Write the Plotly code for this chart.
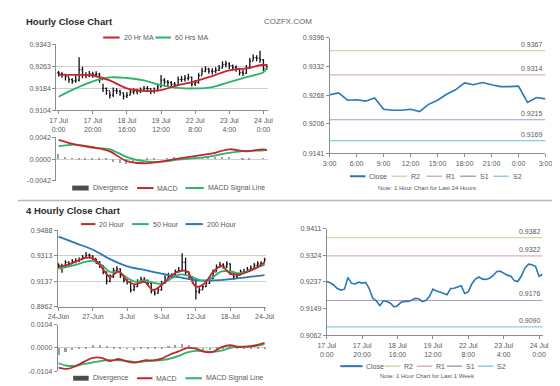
import plotly.graph_objects as go

W, H = 560, 386

# ---------------- data ----------------
# Hourly close chart (17 Jul 0:00 -> 24 Jul), 2-hour sampling of hourly bars
hourly_idx = list(range(0, 124, 2))
hourly_close = [0.9238, 0.9234, 0.9226, 0.9215, 0.9210, 0.9213, 0.9251, 0.9232, 0.9230, 0.9236,
                0.9233, 0.9235, 0.9215, 0.9183, 0.9175, 0.9159, 0.9175, 0.9173, 0.9167, 0.9155,
                0.9159, 0.9170, 0.9173, 0.9173, 0.9177, 0.9183, 0.9182, 0.9172, 0.9176, 0.9189,
                0.9213, 0.9207, 0.9204, 0.9199, 0.9195, 0.9215, 0.9216, 0.9220, 0.9224, 0.9199,
                0.9204, 0.9230, 0.9246, 0.9253, 0.9246, 0.9245, 0.9249, 0.9257, 0.9270, 0.9272,
                0.9266, 0.9259, 0.9256, 0.9241, 0.9238, 0.9256, 0.9282, 0.9295, 0.9293, 0.9288,
                0.9255, 0.9262]
hourly_high = [0.9246, 0.9242, 0.9236, 0.9225, 0.9220, 0.9232, 0.9296, 0.9262, 0.9242, 0.9246,
               0.9244, 0.9245, 0.9240, 0.9200, 0.9186, 0.9172, 0.9186, 0.9184, 0.9178, 0.9168,
               0.9170, 0.9180, 0.9184, 0.9182, 0.9186, 0.9192, 0.9192, 0.9184, 0.9186, 0.9200,
               0.9232, 0.9220, 0.9214, 0.9210, 0.9206, 0.9226, 0.9228, 0.9232, 0.9236, 0.9226,
               0.9214, 0.9240, 0.9258, 0.9264, 0.9258, 0.9256, 0.9260, 0.9268, 0.9282, 0.9284,
               0.9278, 0.9270, 0.9266, 0.9256, 0.9250, 0.9268, 0.9294, 0.9306, 0.9304, 0.9320,
               0.9290, 0.9272]
hourly_low = [0.9226, 0.9222, 0.9212, 0.9204, 0.9200, 0.9204, 0.9208, 0.9220, 0.9220, 0.9224,
              0.9222, 0.9224, 0.9204, 0.9170, 0.9160, 0.9146, 0.9152, 0.9162, 0.9156, 0.9143,
              0.9148, 0.9158, 0.9162, 0.9162, 0.9166, 0.9172, 0.9170, 0.9162, 0.9165, 0.9172,
              0.9186, 0.9196, 0.9192, 0.9188, 0.9184, 0.9194, 0.9206, 0.9208, 0.9212, 0.9190,
              0.9192, 0.9200, 0.9232, 0.9242, 0.9236, 0.9234, 0.9238, 0.9246, 0.9256, 0.9260,
              0.9254, 0.9248, 0.9244, 0.9230, 0.9228, 0.9236, 0.9254, 0.9284, 0.9282, 0.9276,
              0.9246, 0.9250]
hourly_open = [0.9240] + hourly_close[:-1]

hourly_ma_idx = [0, 10, 20, 30, 40, 50, 60, 70, 80, 90, 100, 110, 120, 122]
ma20_hr = [0.9232, 0.9232, 0.9230, 0.9212, 0.9183, 0.9174, 0.9177, 0.9195, 0.9209, 0.9228,
           0.9249, 0.9256, 0.9269, 0.9266]
ma60_hr = [0.9153, 0.9183, 0.9209, 0.9223, 0.9221, 0.9212, 0.9195, 0.9185, 0.9183, 0.9188,
           0.9206, 0.9224, 0.9242, 0.9256]
macd_hr = [0.0037, 0.0028, 0.0023, 0.0015, -0.0004, -0.0008, -0.0005, 0.0001, 0.0006, 0.0011,
           0.0019, 0.0015, 0.0019, 0.0017]
signal_hr = [0.0025, 0.0028, 0.0022, 0.0019, 0.0004, -0.0004, -0.0005, -0.0001, 0.0002, 0.0006,
             0.0012, 0.0016, 0.0017, 0.0018]
div_idx_hr = list(range(0, 124, 4))
div_hr = [0.0009, 0.0004, 0.0001, -0.0001, -0.0002, -0.0002, -0.0003, -0.0003, -0.0006, -0.0009,
          -0.0011, -0.0008, -0.0005, -0.0003, -0.0001, 0.0000, 0.0001, 0.0002, 0.0003, 0.0003,
          0.0002, 0.0003, 0.0004, 0.0003, 0.0002, 0.0002, 0.0000, -0.0002, -0.0002, 0.0000, 0.0001]
hourly_tickvals = [0, 20, 40, 60, 80, 100, 120]
hourly_ticklabels = ["17 Jul<br>0:00", "17 Jul<br>20:00", "18 Jul<br>16:00", "19 Jul<br>12:00",
                     "22 Jul<br>8:00", "23 Jul<br>4:00", "24 Jul<br>0:00"]
hourly_yticks = [0.9104, 0.9184, 0.9263, 0.9343]
macd_hr_yticks = [-0.0042, 0.0, 0.0042]

# Last 24 hours
day_hours = list(range(25))
day_close = [0.9270, 0.9274, 0.9258, 0.9259, 0.9256, 0.9263, 0.9238, 0.9236, 0.9236, 0.9238,
             0.9233, 0.9249, 0.9258, 0.9271, 0.9281, 0.9296, 0.9292, 0.9297, 0.9292, 0.9288,
             0.9288, 0.9289, 0.9253, 0.9264, 0.9261]
day_tickvals = [0, 3, 6, 9, 12, 15, 18, 21, 24]
day_ticklabels = ["3:00", "6:00", "9:00", "12:00", "15:00", "18:00", "21:00", "0:00", "3:00"]
day_yticks = [0.9141, 0.9206, 0.9268, 0.9332, 0.9396]
level_names = ["R2", "R1", "S1", "S2"]
level_colors = ["#d8d4a4", "#ddb0b2", "#a79dc0", "#88cfdc"]
day_levels = [0.9367, 0.9314, 0.9215, 0.9169]
week_levels = [0.9382, 0.9322, 0.9176, 0.9090]
week_yticks = [0.9062, 0.9149, 0.9237, 0.9324, 0.9411]

# 4 hourly close chart (24 Jun -> 24 Jul)
fh_idx = list(range(0, 122, 2))
fh_close = [0.9246, 0.9234, 0.9268, 0.9257, 0.9273, 0.9279, 0.9286, 0.9302, 0.9317, 0.9313,
            0.9295, 0.9273, 0.9246, 0.9201, 0.9138, 0.9167, 0.9212, 0.9223, 0.9178, 0.9145,
            0.9133, 0.9077, 0.9100, 0.9133, 0.9151, 0.9145, 0.9122, 0.9071, 0.9055, 0.9077,
            0.9122, 0.9160, 0.9178, 0.9174, 0.9201, 0.9212, 0.9268, 0.9201, 0.9167, 0.9145,
            0.9066, 0.9077, 0.9100, 0.9122, 0.9156, 0.9201, 0.9234, 0.9250, 0.9241, 0.9257,
            0.9201, 0.9167, 0.9178, 0.9201, 0.9205, 0.9219, 0.9228, 0.9246, 0.9257, 0.9257,
            0.9286]
fh_high = [0.9262, 0.9258, 0.9282, 0.9275, 0.9290, 0.9296, 0.9302, 0.9318, 0.9340, 0.9328,
           0.9316, 0.9290, 0.9275, 0.9250, 0.9205, 0.9185, 0.9230, 0.9240, 0.9226, 0.9180,
           0.9150, 0.9135, 0.9118, 0.9150, 0.9168, 0.9165, 0.9148, 0.9125, 0.9075, 0.9095,
           0.9140, 0.9178, 0.9196, 0.9192, 0.9218, 0.9235, 0.9330, 0.9300, 0.9205, 0.9170,
           0.9150, 0.9095, 0.9118, 0.9140, 0.9174, 0.9218, 0.9252, 0.9270, 0.9262, 0.9275,
           0.9262, 0.9205, 0.9196, 0.9218, 0.9224, 0.9236, 0.9246, 0.9264, 0.9275, 0.9276,
           0.9300]
fh_low = [0.9228, 0.9195, 0.9232, 0.9242, 0.9256, 0.9262, 0.9270, 0.9284, 0.9300, 0.9296,
          0.9278, 0.9256, 0.9228, 0.9185, 0.9115, 0.9130, 0.9160, 0.9205, 0.9160, 0.9128,
          0.9115, 0.9060, 0.9070, 0.9096, 0.9130, 0.9128, 0.9104, 0.9052, 0.9038, 0.9050,
          0.9072, 0.9118, 0.9158, 0.9156, 0.9170, 0.9195, 0.9205, 0.9180, 0.9148, 0.9120,
          0.9010, 0.9050, 0.9078, 0.9098, 0.9120, 0.9150, 0.9205, 0.9232, 0.9224, 0.9228,
          0.9180, 0.9148, 0.9160, 0.9180, 0.9188, 0.9200, 0.9210, 0.9228, 0.9240, 0.9240,
          0.9268]
fh_open = [0.9240] + fh_close[:-1]
fh_ma_idx = list(range(0, 125, 5))
ma20_fh = [0.9234, 0.9250, 0.9273, 0.9297, 0.9295, 0.9234, 0.9167, 0.9205, 0.9138, 0.9115,
           0.9133, 0.9077, 0.9111, 0.9167, 0.9205, 0.9205, 0.9100, 0.9122, 0.9201, 0.9241,
           0.9190, 0.9183, 0.9201, 0.9228, 0.9268]
ma50_fh = [0.9223, 0.9237, 0.9250, 0.9270, 0.9277, 0.9250, 0.9201, 0.9201, 0.9160, 0.9133,
           0.9142, 0.9127, 0.9120, 0.9151, 0.9183, 0.9178, 0.9156, 0.9138, 0.9167, 0.9205,
           0.9205, 0.9192, 0.9205, 0.9228, 0.9250]
ma200_idx = list(range(0, 125, 10))
ma200_fh = [0.9445, 0.9400, 0.9355, 0.9290, 0.9240, 0.9215, 0.9190, 0.9165, 0.9145, 0.9143,
            0.9152, 0.9165, 0.9180]
macd_fh = [-0.0087, -0.0093, -0.0081, -0.0061, -0.0044, -0.0044, -0.0058, -0.0049, -0.0061, -0.0065,
           -0.0055, -0.0055, -0.0047, -0.0029, -0.0015, 0.0000, -0.0003, -0.0017, -0.0017, 0.0004,
           0.0012, 0.0004, 0.0006, 0.0012, 0.0023]
signal_fh = [-0.0068, -0.0079, -0.0079, -0.0071, -0.0064, -0.0057, -0.0054, -0.0055, -0.0058, -0.0063,
             -0.0060, -0.0057, -0.0054, -0.0047, -0.0035, -0.0020, -0.0013, -0.0015, -0.0017, -0.0012,
             0.0000, 0.0006, 0.0006, 0.0009, 0.0017]
div_idx_fh = list(range(0, 124, 4))
div_fh = [-0.0030, -0.0018, -0.0008, 0.0002, 0.0008, 0.0013, 0.0014, 0.0010, 0.0002, 0.0003,
          -0.0002, -0.0003, 0.0002, 0.0003, 0.0003, 0.0006, 0.0012, 0.0016, 0.0018, 0.0015,
          0.0006, -0.0004, -0.0005, 0.0002, 0.0008, 0.0010, 0.0004, 0.0002, 0.0004, 0.0006, 0.0008]
fh_tickvals = [0, 20, 40, 60, 80, 100, 120]
fh_ticklabels = ["24-Jun", "27-Jun", "3-Jul", "9-Jul", "12-Jul", "18-Jul", "24-Jul"]
fh_yticks = [0.8962, 0.9137, 0.9313, 0.9488]
macd_fh_yticks = [-0.0104, 0.0, 0.0104]

# ---------------- styling ----------------
RED = "#c4262e"
GREEN = "#2db36a"
BLUE = "#2a77b8"
GRAY_TXT = "#595959"
FONT = "Arial, Liberation Sans, sans-serif"


def px_x(a, b):
    return [a / W, b / W]


def px_y(top, bottom):
    return [1 - bottom / H, 1 - top / H]


fig = go.Figure()

bar_line = dict(line=dict(color="#111111", width=1.3))

# --- top-left: hourly bars + MAs ---
fig.add_trace(go.Ohlc(x=hourly_idx, open=hourly_open, high=hourly_high, low=hourly_low, close=hourly_close,
                      increasing=bar_line, decreasing=bar_line,
                      tickwidth=0.35, xaxis="x", yaxis="y", showlegend=False, hoverinfo="skip"))
fig.add_trace(go.Scatter(x=hourly_ma_idx, y=ma60_hr, mode="lines", line=dict(color=GREEN, width=1.8, shape="spline"),
                         xaxis="x", yaxis="y", showlegend=False))
fig.add_trace(go.Scatter(x=hourly_ma_idx, y=ma20_hr, mode="lines", line=dict(color=RED, width=1.8, shape="spline"),
                         xaxis="x", yaxis="y", showlegend=False))

# --- top-left MACD ---
fig.add_trace(go.Bar(x=div_idx_hr, y=div_hr, marker=dict(color="#a0a0a0", line=dict(width=0)), width=0.9,
                     xaxis="x2", yaxis="y2", showlegend=False))
fig.add_trace(go.Scatter(x=hourly_ma_idx, y=signal_hr, mode="lines", line=dict(color=GREEN, width=1.8, shape="spline"),
                         xaxis="x2", yaxis="y2", showlegend=False))
fig.add_trace(go.Scatter(x=hourly_ma_idx, y=macd_hr, mode="lines", line=dict(color=RED, width=1.8, shape="spline"),
                         xaxis="x2", yaxis="y2", showlegend=False))

# --- top-right: last 24 hours ---
for name, lvl, col in zip(level_names, day_levels, level_colors):
    fig.add_trace(go.Scatter(x=[day_hours[0], day_hours[-1]], y=[lvl, lvl], mode="lines",
                             line=dict(color=col, width=1.2), xaxis="x3", yaxis="y3", showlegend=False))
    fig.add_annotation(x=day_hours[-1], y=lvl, xref="x3", yref="y3", text=f"{lvl:.4f}", showarrow=False,
                       xanchor="right", yanchor="bottom", yshift=1, font=dict(size=7, color=GRAY_TXT, family=FONT))
fig.add_trace(go.Scatter(x=day_hours, y=day_close, mode="lines", line=dict(color=BLUE, width=1.6),
                         xaxis="x3", yaxis="y3", showlegend=False))

# --- bottom-left: 4 hourly bars + MAs ---
fig.add_trace(go.Ohlc(x=fh_idx, open=fh_open, high=fh_high, low=fh_low, close=fh_close,
                      increasing=bar_line, decreasing=bar_line,
                      tickwidth=0.35, xaxis="x4", yaxis="y4", showlegend=False, hoverinfo="skip"))
fig.add_trace(go.Scatter(x=ma200_idx, y=ma200_fh, mode="lines", line=dict(color=BLUE, width=1.8, shape="spline"),
                         xaxis="x4", yaxis="y4", showlegend=False))
fig.add_trace(go.Scatter(x=fh_ma_idx, y=ma50_fh, mode="lines", line=dict(color=GREEN, width=1.8, shape="spline"),
                         xaxis="x4", yaxis="y4", showlegend=False))
fig.add_trace(go.Scatter(x=fh_ma_idx, y=ma20_fh, mode="lines", line=dict(color=RED, width=1.8, shape="spline"),
                         xaxis="x4", yaxis="y4", showlegend=False))

# --- bottom-left MACD ---
fig.add_trace(go.Bar(x=div_idx_fh, y=div_fh, marker=dict(color="#a0a0a0", line=dict(width=0)), width=0.9,
                     xaxis="x5", yaxis="y5", showlegend=False))
fig.add_trace(go.Scatter(x=fh_ma_idx, y=signal_fh, mode="lines", line=dict(color=GREEN, width=1.8, shape="spline"),
                         xaxis="x5", yaxis="y5", showlegend=False))
fig.add_trace(go.Scatter(x=fh_ma_idx, y=macd_fh, mode="lines", line=dict(color=RED, width=1.8, shape="spline"),
                         xaxis="x5", yaxis="y5", showlegend=False))

# --- bottom-right: last week ---
for name, lvl, col in zip(level_names, week_levels, level_colors):
    fig.add_trace(go.Scatter(x=[hourly_idx[0], hourly_idx[-1]], y=[lvl, lvl], mode="lines",
                             line=dict(color=col, width=1.2), xaxis="x6", yaxis="y6", showlegend=False))
    fig.add_annotation(x=hourly_idx[-1], y=lvl, xref="x6", yref="y6", text=f"{lvl:.4f}", showarrow=False,
                       xanchor="right", yanchor="bottom", yshift=1, font=dict(size=7, color=GRAY_TXT, family=FONT))
fig.add_trace(go.Scatter(x=hourly_idx, y=hourly_close, mode="lines", line=dict(color=BLUE, width=1.6),
                         xaxis="x6", yaxis="y6", showlegend=False))

# ---------------- axes ----------------
tickfont = dict(size=7, color=GRAY_TXT, family=FONT)


def xax(domain, anchor, rng, tickvals, ticktext, show_labels=True):
    return dict(domain=domain, anchor=anchor, range=rng, tickvals=tickvals, ticktext=ticktext,
                showticklabels=show_labels, showline=True, linecolor="#8c8c8c", linewidth=1,
                ticks="outside", ticklen=3, tickcolor="#8c8c8c", showgrid=False, zeroline=False,
                tickfont=tickfont, fixedrange=True, rangeslider=dict(visible=False))


def yax(domain, anchor, rng, tickvals, grid=True):
    return dict(domain=domain, anchor=anchor, range=rng, tickvals=tickvals,
                ticktext=[f"{v:.4f}" for v in tickvals],
                showline=True, linecolor="#8c8c8c", linewidth=1, ticks="outside", ticklen=3,
                tickcolor="#8c8c8c", showgrid=grid, gridcolor="#cfcfcf", gridwidth=1, zeroline=False,
                tickfont=tickfont, fixedrange=True)


layout = dict(
    width=W, height=H, margin=dict(l=0, r=0, t=0, b=0),
    paper_bgcolor="white", plot_bgcolor="white", showlegend=False, bargap=0,
    font=dict(family=FONT),
    xaxis=xax(px_x(39.5, 258), "y", [-1.4, 122.5], hourly_tickvals, hourly_ticklabels),
    yaxis=yax(px_y(33, 100), "x", [hourly_yticks[0], hourly_yticks[-1]], hourly_yticks),
    xaxis2=xax(px_x(39.5, 258), "y2", [-1.4, 122.5], hourly_tickvals, hourly_ticklabels, False),
    yaxis2=yax(px_y(127.7, 172), "x2", [macd_hr_yticks[0], macd_hr_yticks[-1]], macd_hr_yticks),
    xaxis3=xax(px_x(322, 545), "y3", [0, 24], day_tickvals, day_ticklabels),
    yaxis3=yax(px_y(26, 144), "x3", [day_yticks[0], day_yticks[-1]], day_yticks, False),
    xaxis4=xax(px_x(41, 256.5), "y4", [-0.5, 121], fh_tickvals, fh_ticklabels),
    yaxis4=yax(px_y(222.5, 300), "x4", [fh_yticks[0], fh_yticks[-1]], fh_yticks),
    xaxis5=xax(px_x(41, 256.5), "y5", [-0.5, 121], fh_tickvals, fh_ticklabels, False),
    yaxis5=yax(px_y(318.3, 366), "x5", [macd_fh_yticks[0], macd_fh_yticks[-1]], macd_fh_yticks),
    xaxis6=xax(px_x(319, 542), "y6", [0, 122], hourly_tickvals, hourly_ticklabels),
    yaxis6=yax(px_y(220.7, 329.3), "x6", [week_yticks[0], week_yticks[-1]], week_yticks, False),
)
fig.update_layout(**layout)
fig.update_layout(xaxis2=dict(showline=False, ticks=""), xaxis5=dict(showline=False, ticks=""))

# ---------------- decorations: titles, legends, separators ----------------
shapes = []
annots = []


def px(xp, yp):
    return xp / W, 1 - yp / H


def text(xp, yp, s, size=7, color=GRAY_TXT, anchor="left", bold=False):
    x, y = px(xp, yp)
    annots.append(dict(x=x, y=y, xref="paper", yref="paper", text=f"<b>{s}</b>" if bold else s,
                       showarrow=False, xanchor=anchor, yanchor="middle",
                       font=dict(size=size, color=color, family=FONT)))


def seg(x0, x1, yp, color, width=2):
    a, b = px(x0, yp)
    c, _ = px(x1, yp)
    shapes.append(dict(type="line", xref="paper", yref="paper", x0=a, x1=c, y0=b, y1=b,
                       line=dict(color=color, width=width)))


def box(x0, x1, yp, color):
    a, b = px(x0, yp - 2.5)
    c, d = px(x1, yp + 2.5)
    shapes.append(dict(type="rect", xref="paper", yref="paper", x0=a, x1=c, y0=d, y1=b,
                       fillcolor=color, line=dict(width=0)))


text(6, 10, "Hourly Close Chart", size=9.5, color="#2b2b2b", bold=True)
text(252, 10, "COZFX.COM", size=8, color="#666666")
text(6, 202, "4 Hourly Close Chart", size=9.5, color="#2b2b2b", bold=True)

for yp in (192, 385):
    a, b = px(0, yp)
    shapes.append(dict(type="line", xref="paper", yref="paper", x0=0, x1=1, y0=b, y1=b,
                       line=dict(color="#b8b8b8", width=1.5)))

# top-left legend
seg(88, 105, 26, RED); text(107, 26, "20 Hr MA")
seg(142, 158, 26, GREEN); text(160, 26, "60 Hrs MA")
# top-left MACD legend
box(56, 73, 179.3, "#4d4d4d"); text(75, 179.3, "Divergence")
seg(123, 140, 179.3, RED); text(142, 179.3, "MACD")
seg(173, 192, 179.3, GREEN); text(194, 179.3, "MACD Signal Line")
# top-right legend
seg(343, 359, 167.3, BLUE); text(361, 167.3, "Close")
for (x0, name, col) in zip([386, 422, 457, 491], level_names, level_colors):
    seg(x0, x0 + 16, 167.3, col, 1.5); text(x0 + 18, 167.3, name)
text(423, 179.3, "Note: 1 Hour Chart for Last 24 Hours", size=6, anchor="center")
# bottom-left legend
seg(65, 80, 216, RED); text(82, 216, "20 Hour")
seg(118, 135, 216, GREEN); text(137, 216, "50 Hour")
seg(173, 191, 216, BLUE); text(193, 216, "200 Hour")
# bottom-left MACD legend
box(57, 73, 373, "#4d4d4d"); text(75, 373, "Divergence")
seg(123, 139, 373, RED); text(141, 373, "MACD")
seg(173, 190, 373, GREEN); text(192, 373, "MACD Signal Line")
# bottom-right legend
seg(333, 356, 360.7, BLUE); text(358, 360.7, "Close")
for (x0, name, col) in zip([379, 412, 443, 475], level_names, level_colors):
    seg(x0, x0 + 16, 360.7, col, 1.5); text(x0 + 18, 360.7, name)
text(423, 370.7, "Note: 1 Hour Chart for Last 1 Week", size=6, anchor="center")

fig.update_layout(shapes=shapes, annotations=list(fig.layout.annotations) + annots)

fig.write_html("out.html", config={"displayModeBar": False})
